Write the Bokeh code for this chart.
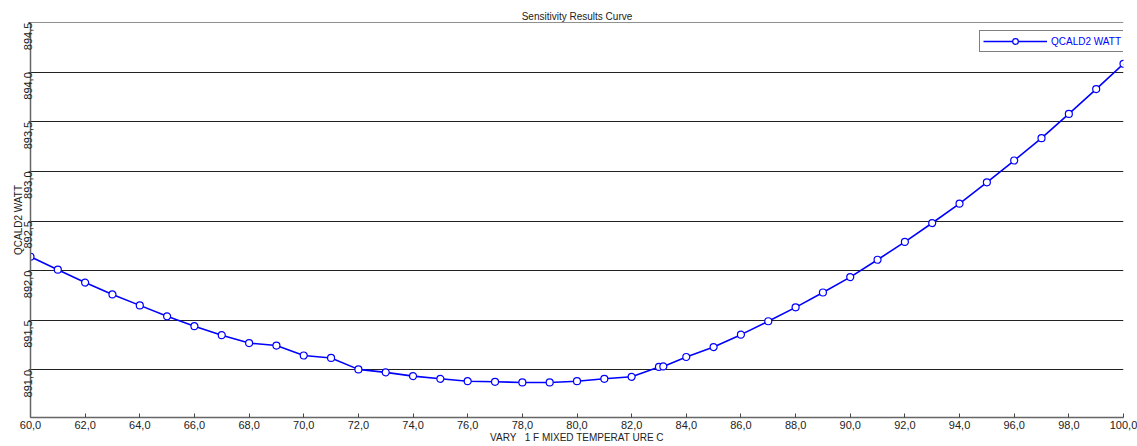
import math
from bokeh.plotting import figure
from bokeh.models import Range1d, FixedTicker, CustomJSTickFormatter, Legend, LegendItem
from bokeh.embed import file_html
from bokeh.resources import INLINE

# Sensitivity run: mixed temperature vs. QCALD2 duty
temperature_c = [60, 61, 62, 63, 64, 65, 66, 67, 68, 69, 70, 71, 72, 73, 74, 75,
                 76, 77, 78, 79, 80, 81, 82, 83, 83.16, 84, 85, 86, 87, 88, 89,
                 90, 91, 92, 93, 94, 95, 96, 97, 98, 99, 100]
qcald2_watt = [892.14, 892.01, 891.88, 891.76, 891.65, 891.54, 891.44, 891.35,
               891.27, 891.245, 891.145, 891.12, 891.005, 890.975, 890.937,
               890.91, 890.886, 890.88, 890.873, 890.873, 890.886, 890.91,
               890.93, 891.03, 891.035, 891.13, 891.23, 891.355, 891.49,
               891.63, 891.78, 891.935, 892.11, 892.29, 892.48, 892.675,
               892.89, 893.11, 893.335, 893.58, 893.83, 894.085]

x_ticks = [60, 62, 64, 66, 68, 70, 72, 74, 76, 78, 80, 82, 84, 86, 88, 90, 92, 94, 96, 98, 100]
y_ticks = [891.0, 891.5, 892.0, 892.5, 893.0, 893.5, 894.0, 894.5]

FONT = "Liberation Sans"
BLUE = "#0000FF"

p = figure(frame_width=1093, frame_height=395,
           x_range=Range1d(60, 100), y_range=Range1d(890.52, 894.501),
           output_backend="svg", toolbar_location=None,
           min_border_left=30, min_border_right=14, min_border_top=22, min_border_bottom=0,
           title="Sensitivity Results Curve")

p.title.align = "center"
p.title.text_font = FONT
p.title.text_font_size = "10px"
p.title.text_font_style = "normal"
p.title.text_color = "#222222"
p.title.standoff = 2
p.outline_line_color = None

comma = CustomJSTickFormatter(code="return tick.toFixed(1).replace('.', ',');")

# x axis
xa = p.xaxis[0]
xa.ticker = FixedTicker(ticks=x_ticks)
xa.formatter = comma
xa.axis_label = "VARY\u00a0\u00a0\u00a01 F MIXED TEMPERAT URE C"
xa.axis_label_text_font = FONT
xa.axis_label_text_font_size = "10px"
xa.axis_label_text_font_style = "normal"
xa.axis_label_text_color = "#222222"
xa.axis_label_standoff = 0
xa.major_label_text_font = FONT
xa.major_label_text_font_size = "11px"
xa.major_label_text_color = "#222222"
xa.major_label_standoff = 3
xa.major_tick_in = 4
xa.major_tick_out = 0
xa.minor_tick_line_color = None
xa.axis_line_color = "#666666"
xa.axis_line_width = 1.5
xa.major_tick_line_color = "#444444"

# y axis
ya = p.yaxis[0]
ya.ticker = FixedTicker(ticks=y_ticks)
ya.formatter = comma
ya.axis_label = "QCALD2 WATT"
ya.axis_label_text_font = FONT
ya.axis_label_text_font_size = "10px"
ya.axis_label_text_font_style = "normal"
ya.axis_label_text_color = "#222222"
ya.axis_label_standoff = -6
ya.major_label_text_font = FONT
ya.major_label_text_font_size = "11px"
ya.major_label_text_color = "#222222"
ya.major_label_orientation = math.pi / 2
ya.major_label_standoff = 0
ya.major_tick_in = 0
ya.major_tick_out = 2
ya.minor_tick_line_color = None
ya.axis_line_color = "#666666"
ya.axis_line_width = 1.5
ya.major_tick_line_color = "#444444"

p.xgrid.grid_line_color = None
p.ygrid.grid_line_color = "#222222"
p.ygrid.grid_line_width = 1.2

line = p.line(temperature_c, qcald2_watt, line_color=BLUE, line_width=1.6)
dots = p.scatter(temperature_c, qcald2_watt, marker="circle", size=7,
                 fill_color="white", line_color=BLUE, line_width=1.2)

legend = Legend(items=[LegendItem(label="QCALD2 WATT", renderers=[line, dots])],
                location=(949, 365))
legend.label_text_font = FONT
legend.label_text_font_size = "10px"
legend.label_text_color = BLUE
legend.glyph_width = 64
legend.glyph_height = 14
legend.label_height = 14
legend.label_standoff = 4
legend.padding = 3
legend.spacing = 0
legend.margin = 0
legend.border_line_color = "black"
legend.border_line_width = 1
legend.background_fill_color = "white"
legend.background_fill_alpha = 1
p.add_layout(legend)

open("out.html", "w").write(file_html(p, INLINE))
